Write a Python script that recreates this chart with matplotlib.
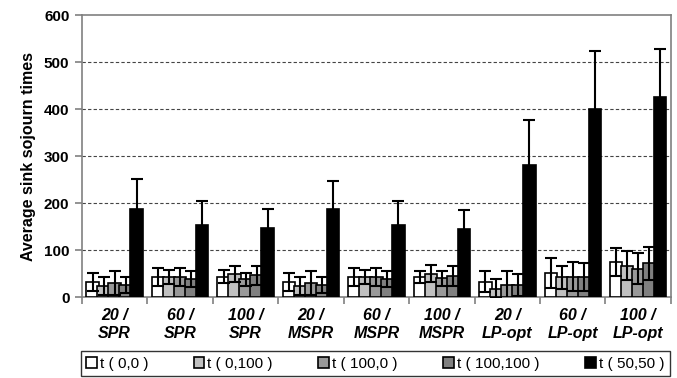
import numpy as np
import matplotlib
matplotlib.use('Agg')
import matplotlib.pyplot as plt

plt.rcParams['font.family'] = ['Liberation Sans', 'DejaVu Sans']

# categories and series
categories = ['20 /\nSPR', '60 /\nSPR', '100 /\nSPR', '20 /\nMSPR', '60 /\nMSPR',
              '100 /\nMSPR', '20 /\nLP-opt', '60 /\nLP-opt', '100 /\nLP-opt']
series_names = ['t ( 0,0 )', 't ( 0,100 )', 't ( 100,0 )', 't ( 100,100 )', 't ( 50,50 )']
colors = ['#ffffff', '#c0c0c0', '#999999', '#808080', '#000000']

t_0_0 = [32, 42, 43, 32, 42, 43, 33, 52, 74]
t_0_100 = [24, 42, 50, 24, 42, 50, 18, 42, 67]
t_100_0 = [30, 42, 38, 30, 42, 40, 26, 43, 60]
t_100_100 = [26, 38, 46, 26, 38, 45, 26, 43, 72]
t_50_50 = [187, 153, 146, 187, 153, 145, 281, 401, 426]

err_0_0 = [20, 19, 14, 20, 19, 13, 23, 32, 30]
err_0_100 = [19, 15, 17, 19, 15, 18, 20, 25, 31]
err_100_0 = [25, 19, 14, 25, 19, 16, 29, 31, 33]
err_100_100 = [17, 17, 21, 17, 17, 22, 23, 29, 35]
err_50_50 = [64, 51, 41, 60, 51, 40, 96, 122, 101]

values = [t_0_0, t_0_100, t_100_0, t_100_100, t_50_50]
errors = [err_0_0, err_0_100, err_100_0, err_100_100, err_50_50]

fig = plt.figure(figsize=(6.77, 3.78), dpi=100)
ax = fig.add_axes([0.121, 0.214, 0.870, 0.746])

x = np.arange(len(categories)) + 0.5
width = 0.19
step = 0.168
for i in range(5):
    ax.bar(x + (i - 2) * step, values[i], width, color=colors[i], edgecolor='black',
           linewidth=1.2, label=series_names[i], zorder=3)
    ax.errorbar(x + (i - 2) * step, values[i], yerr=errors[i], fmt='none',
                ecolor='black', elinewidth=1.5, capsize=4.5, capthick=1.5, zorder=4)

ax.set_xlim(0, len(categories))
ax.set_ylim(0, 600)
ax.set_yticks(range(0, 601, 100))
ax.set_yticklabels([str(v) for v in range(0, 601, 100)], fontsize=11, fontweight='bold')
for v in range(100, 600, 100):
    ax.axhline(v, color='#444444', linestyle=(0, (3, 2)), linewidth=0.8, zorder=1)

ax.set_xticks(np.arange(len(categories) + 1))
ax.set_xticklabels([])
ax.tick_params(axis='x', length=5, color='#808080', width=1.2)
ax.tick_params(axis='y', length=5, color='#808080', width=1.2, pad=4)
ax.set_xticks(x, minor=True)
ax.set_xticklabels(categories, minor=True, fontsize=11.5, fontweight='bold',
                   fontstyle='italic', linespacing=1.25)
ax.tick_params(axis='x', which='minor', length=0, pad=8)

for s in ax.spines.values():
    s.set_color('#808080')
    s.set_linewidth(1.2)

ax.set_ylabel('Average sink sojourn times', fontsize=11.5, fontweight='bold', labelpad=6)

leg = fig.legend(loc='lower left', bbox_to_anchor=(0.119, 0.005, 0.870, 0.066),
                 mode='expand', ncol=5, fontsize=11, frameon=True, fancybox=False,
                 handlelength=0.7, handleheight=0.7, handletextpad=0.2,
                 borderpad=0.35, borderaxespad=0)
leg.get_frame().set_edgecolor('black')
leg.get_frame().set_linewidth(1.0)

fig.savefig('out.png', dpi=100)
